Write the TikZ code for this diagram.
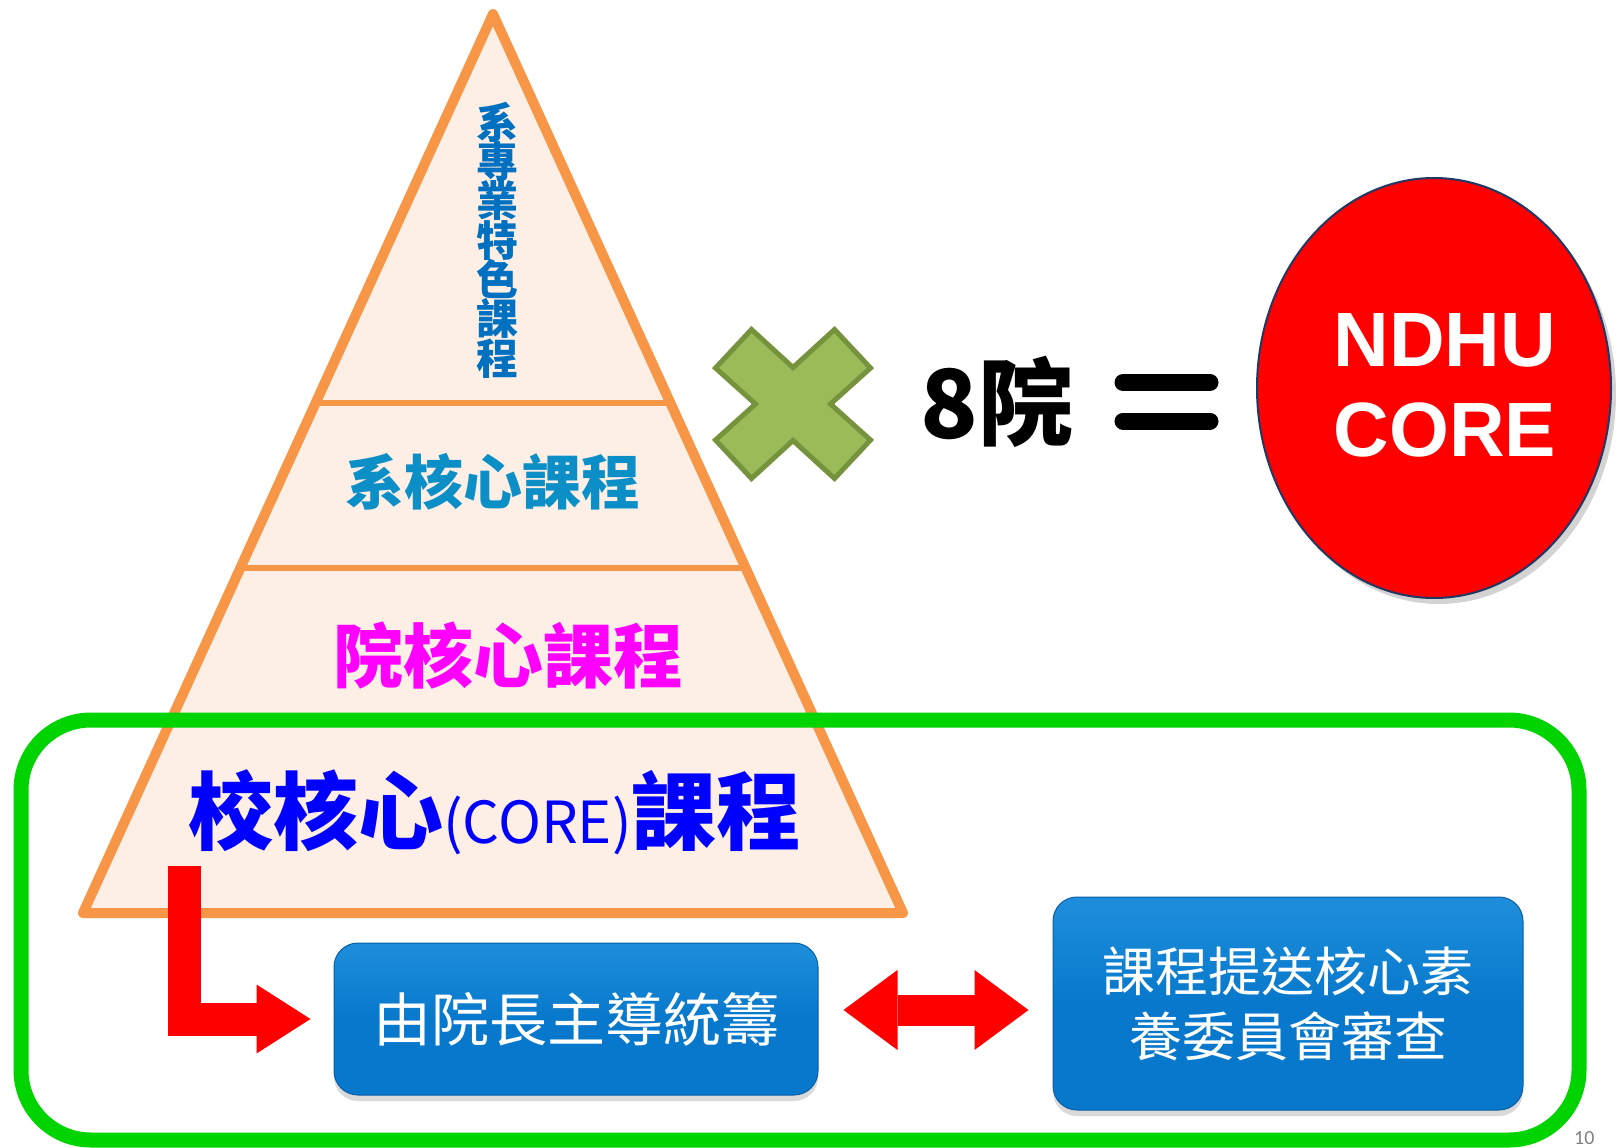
\documentclass[tikz,border=0pt]{standalone}
\usepackage{fontspec}
\usetikzlibrary{calc, arrows.meta, positioning, shapes.geometric, shadows}
\newfontfamily\cjk{Noto Sans CJK TC}
\newfontfamily\latinbold{Liberation Sans}
\newfontfamily\pagefont{Carlito}
\newcommand\tightlines{\setlength{\lineskiplimit}{-50pt}\setlength{\lineskip}{0pt}}
\definecolor{pyrfill}{RGB}{253,239,230}
\definecolor{pyrline}{RGB}{247,150,70}
\definecolor{framegreen}{RGB}{0,212,0}
\definecolor{spectext}{RGB}{0,112,192}
\definecolor{depttext}{RGB}{12,143,198}
\definecolor{colltext}{RGB}{255,0,255}
\definecolor{univtext}{RGB}{0,0,255}
\definecolor{arrowred}{RGB}{255,0,0}
\definecolor{boxtop}{RGB}{30,142,220}
\definecolor{boxfill}{RGB}{8,120,204}
\definecolor{boxedge}{RGB}{10,95,165}
\definecolor{crossfill}{RGB}{155,187,89}
\definecolor{crossedge}{RGB}{118,146,60}
\definecolor{ovaledge}{RGB}{31,56,100}
\tikzset{
  pyramid/.style = {draw=pyrline, line width=10pt, line join=round, fill=pyrfill},
  tierline/.style = {draw=pyrline, line width=6pt},
  tiertext/.style = {inner sep=0pt, font=\cjk\bfseries},
  bluebox/.style = {rectangle, rounded corners=24pt, draw=boxedge, line width=1pt,
                    top color=boxtop, bottom color=boxfill, middle color=boxfill,
                    text=white, align=center, inner sep=0pt,
                    drop shadow={shadow xshift=0pt, shadow yshift=-6pt, opacity=0.3}},
  redarrow/.style = {color=arrowred, line width=33pt, line join=miter,
                     -{Triangle[length=54pt, width=69pt, line width=0pt]}},
  dblarrow/.style = {color=arrowred, line width=31pt,
                     {Triangle[length=54pt, width=80pt, line width=0pt]}-{Triangle[length=54pt, width=80pt, line width=0pt]}},
  crossmark/.style = {draw=crossedge, line width=5pt, fill=crossfill, line join=miter},
  eqbar/.style = {line width=17pt, line cap=round, black},
  coreoval/.style = {ellipse, draw=ovaledge, line width=2pt, fill=arrowred,
                     minimum width=354pt, minimum height=420pt, inner sep=0pt,
                     drop shadow={shadow xshift=5pt, shadow yshift=-6pt, opacity=0.35}},
}

\begin{document}
\begin{tikzpicture}[x=1pt, y=-1pt]
  \useasboundingbox (0,0) rectangle (1620,1148);

  % 金字塔
  \coordinate (apex) at (493,14);
  \coordinate (bl) at (83,913);
  \coordinate (br) at (903,913);
  \draw[pyramid] (apex) -- (bl) -- (br) -- cycle;
  \draw[tierline] ($(apex)!0.4327!(bl)$) -- ($(apex)!0.4327!(br)$);
  \draw[tierline] ($(apex)!0.6162!(bl)$) -- ($(apex)!0.6162!(br)$);

  % 各層文字
  \node (spec) [tiertext, text=spectext, align=center,
        font=\cjk\bfseries\fontsize{42}{39.3}\selectfont\tightlines]
        at (497,240) {系\\專\\業\\特\\色\\課\\程};
  \node (dept) [tiertext, text=depttext, font=\cjk\bfseries\fontsize{59}{62}\selectfont]
        at (493,482) {系核心課程};
  \node (coll) [tiertext, text=colltext, font=\cjk\bfseries\fontsize{70}{72}\selectfont]
        at (508,656) {院核心課程};
  \node (univ) [tiertext, text=univtext, font=\cjk\bfseries\fontsize{85}{88}\selectfont]
        at (495,812) {校核心{\mdseries\fontsize{58}{60}\selectfont(CORE)}課程};

  % 綠框
  \draw[framegreen, line width=15pt, rounded corners=70pt] (21,720) rectangle (1579,1140);

  % 下方流程
  \node (lead) [bluebox, minimum width=484pt, minimum height=152pt,
        font=\cjk\fontsize{58}{60}\selectfont] at (576,1019) {由院長主導統籌};
  \node (review) [bluebox, minimum width=470pt, minimum height=213pt,
        font=\cjk\fontsize{53}{65}\selectfont] at (1288,1003.5) {課程提送核心素\\養委員會審查};
  \coordinate (lstart) at (184.5,866);
  \draw[redarrow, shorten >=23pt] (lstart) |- (lead.west);
  \draw[dblarrow, shorten <=25pt, shorten >=24pt]
       ([yshift=9pt]lead.east) -- ([yshift=9pt]lead.east -| review.west);

  % 乘號、8院、等號
  \draw[crossmark, shift={(793,404)}]
       (-41.5,-74.5) -- (0,-36.5) -- (41.5,-74.5) -- (77.5,-36) -- (37.5,0)
       -- (77.5,36) -- (41.5,74.5) -- (0,36.5) -- (-41.5,74.5) -- (-77.5,36)
       -- (-37.5,0) -- (-77.5,-36) -- cycle;
  \node (times8) [tiertext, font=\cjk\bfseries\fontsize{95}{98}\selectfont]
        at (997,402) {8院};
  \draw[eqbar] (1123,382.5) -- (1210,382.5);
  \draw[eqbar] (1123,421) -- (1210,421);

  % NDHU CORE
  \node (core) [coreoval] at (1434,388) {};
  \node (corelabel) [text=white, align=center, inner sep=0pt,
        font=\latinbold\bfseries\fontsize{77}{90}\selectfont]
        at ([xshift=11pt, yshift=3pt]core.center) {NDHU\\CORE};

  \node (pageno) [anchor=south west, inner sep=0pt, text=gray,
        font=\pagefont\fontsize{20}{22}\selectfont] at (1574,1145) {10};
\end{tikzpicture}
\end{document}
